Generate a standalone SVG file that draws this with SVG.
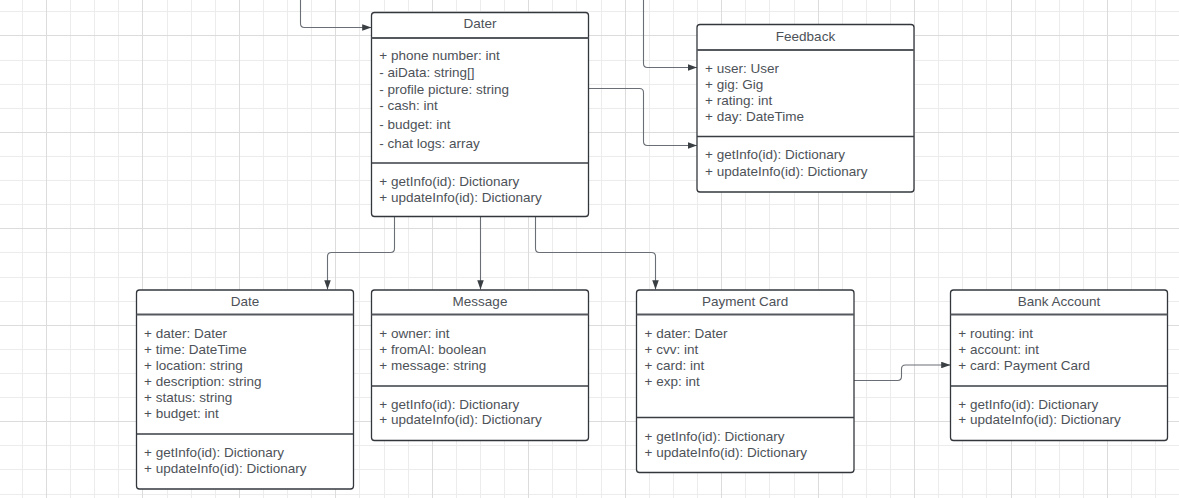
<svg xmlns="http://www.w3.org/2000/svg" width="1179" height="498" viewBox="0 0 1179 498">
<style>
.gmin{stroke:#ececec;stroke-width:1;fill:none}
.gmaj{stroke:#dcdcdc;stroke-width:1;fill:none}
.box{fill:#ffffff;stroke:#33373c;stroke-width:1.3}
.hdr{stroke:#55595e;stroke-width:2;fill:none}
.div{stroke:#3a3e43;stroke-width:1.5;fill:none}
.t{font-family:"Liberation Sans",Arial,sans-serif;font-size:13.5px;fill:#4d5258}
.ttl{font-family:"Liberation Sans",Arial,sans-serif;font-size:13.5px;fill:#4d5258;text-anchor:middle}
.conn{stroke:#6a6f75;stroke-width:1.1;fill:none}
</style>
<defs>
<marker id="arr" viewBox="0 0 10 7" refX="10" refY="3.5" markerWidth="9.5" markerHeight="6.5" markerUnits="userSpaceOnUse" orient="auto">
<path d="M0,0 L10,3.5 L0,7 Z" fill="#3a3f44"/>
</marker>
</defs>
<rect width="1179" height="498" fill="#ffffff"/>
<g id="grid">
<path class="gmin" d="M22.5,0V498M70.5,0V498M94.5,0V498M118.5,0V498M167.5,0V498M191.5,0V498M215.5,0V498M263.5,0V498M287.5,0V498M311.5,0V498M359.5,0V498M384.5,0V498M408.5,0V498M456.5,0V498M480.5,0V498M504.5,0V498M552.5,0V498M576.5,0V498M601.5,0V498M649.5,0V498M673.5,0V498M697.5,0V498M745.5,0V498M769.5,0V498M794.5,0V498M842.5,0V498M866.5,0V498M890.5,0V498M938.5,0V498M962.5,0V498M986.5,0V498M1035.5,0V498M1059.5,0V498M1083.5,0V498M1131.5,0V498M1155.5,0V498M0,11.5H1179M0,60.5H1179M0,84.5H1179M0,108.5H1179M0,156.5H1179M0,180.5H1179M0,204.5H1179M0,252.5H1179M0,277.5H1179M0,301.5H1179M0,349.5H1179M0,373.5H1179M0,397.5H1179M0,445.5H1179M0,469.5H1179M0,494.5H1179"/>
<path class="gmaj" d="M46.5,0V498M142.5,0V498M239.5,0V498M335.5,0V498M432.5,0V498M528.5,0V498M625.5,0V498M721.5,0V498M818.5,0V498M914.5,0V498M1011.5,0V498M1107.5,0V498M0,35.5H1179M0,132.5H1179M0,228.5H1179M0,325.5H1179M0,421.5H1179"/>
</g>
<g id="connectors">
<path class="conn" marker-end="url(#arr)" d="M300.5,0 V23.5 Q300.5,27.5 304.5,27.5 H371.5"/>
<path class="conn" marker-end="url(#arr)" d="M643.5,0 V63.5 Q643.5,67.5 647.5,67.5 H697"/>
<path class="conn" marker-end="url(#arr)" d="M588.5,88.5 H639.5 Q643.5,88.5 643.5,92.5 V141.5 Q643.5,145.5 647.5,145.5 H697"/>
<path class="conn" marker-end="url(#arr)" d="M394.5,216.5 V248.5 Q394.5,252.5 390.5,252.5 H331.5 Q327.5,252.5 327.5,256.5 V289.5"/>
<path class="conn" marker-end="url(#arr)" d="M480.5,216.5 V289.5"/>
<path class="conn" marker-end="url(#arr)" d="M535.5,216.5 V248.5 Q535.5,252.5 539.5,252.5 H651.5 Q655.5,252.5 655.5,256.5 V289.5"/>
<path class="conn" marker-end="url(#arr)" d="M854,380.5 H897.5 Q901.5,380.5 901.5,376.5 V369 Q901.5,365 905.5,365 H950.5"/>
</g>
<g id="dater">
<rect class="box" x="371.5" y="12.5" width="217" height="204" rx="3"/>
<path class="hdr" d="M371.5,38H588.5"/>
<path class="div" d="M371.5,163H588.5"/>
<text class="ttl" x="480" y="28.3">Dater</text>
<text class="t" x="379.3" y="60.3">+ phone number: int</text>
<text class="t" x="379.3" y="77">- aiData: string[]</text>
<text class="t" x="379.3" y="93.5">- profile picture: string</text>
<text class="t" x="379.3" y="110">- cash: int</text>
<text class="t" x="379.3" y="129">- budget: int</text>
<text class="t" x="379.3" y="147.7">- chat logs: array</text>
<text class="t" x="379.3" y="185.5">+ getInfo(id): Dictionary</text>
<text class="t" x="379.3" y="201.5">+ updateInfo(id): Dictionary</text>
</g>
<g id="feedback">
<rect class="box" x="697" y="24.5" width="217" height="167.5" rx="3"/>
<path class="hdr" d="M697,50H914"/>
<path class="div" d="M697,136.5H914"/>
<text class="ttl" x="805.5" y="40.5">Feedback</text>
<text class="t" x="705" y="72.7">+ user: User</text>
<text class="t" x="705" y="88.7">+ gig: Gig</text>
<text class="t" x="705" y="104.7">+ rating: int</text>
<text class="t" x="705" y="120.9">+ day: DateTime</text>
<text class="t" x="705" y="159.2">+ getInfo(id): Dictionary</text>
<text class="t" x="705" y="175.9">+ updateInfo(id): Dictionary</text>
</g>
<g id="date">
<rect class="box" x="136.5" y="290" width="217" height="199" rx="3"/>
<path class="hdr" d="M136.5,314.5H353.5"/>
<path class="div" d="M136.5,434H353.5"/>
<text class="ttl" x="245" y="306">Date</text>
<text class="t" x="144" y="337.5">+ dater: Dater</text>
<text class="t" x="144" y="353.8">+ time: DateTime</text>
<text class="t" x="144" y="369.8">+ location: string</text>
<text class="t" x="144" y="385.8">+ description: string</text>
<text class="t" x="144" y="402">+ status: string</text>
<text class="t" x="144" y="418">+ budget: int</text>
<text class="t" x="144" y="457">+ getInfo(id): Dictionary</text>
<text class="t" x="144" y="473">+ updateInfo(id): Dictionary</text>
</g>
<g id="message">
<rect class="box" x="371.5" y="290" width="217" height="150.5" rx="3"/>
<path class="hdr" d="M371.5,314.5H588.5"/>
<path class="div" d="M371.5,386H588.5"/>
<text class="ttl" x="480" y="305.7">Message</text>
<text class="t" x="379.3" y="337.5">+ owner: int</text>
<text class="t" x="379.3" y="353.8">+ fromAI: boolean</text>
<text class="t" x="379.3" y="369.8">+ message: string</text>
<text class="t" x="379.3" y="408.8">+ getInfo(id): Dictionary</text>
<text class="t" x="379.3" y="424.1">+ updateInfo(id): Dictionary</text>
</g>
<g id="payment-card">
<rect class="box" x="636.5" y="290" width="217.5" height="182.5" rx="3"/>
<path class="hdr" d="M636.5,314.5H854"/>
<path class="div" d="M636.5,417.5H854"/>
<text class="ttl" x="745.2" y="305.7">Payment Card</text>
<text class="t" x="644.5" y="337.5">+ dater: Dater</text>
<text class="t" x="644.5" y="353.8">+ cvv: int</text>
<text class="t" x="644.5" y="369.8">+ card: int</text>
<text class="t" x="644.5" y="385.8">+ exp: int</text>
<text class="t" x="644.5" y="440.5">+ getInfo(id): Dictionary</text>
<text class="t" x="644.5" y="456.8">+ updateInfo(id): Dictionary</text>
</g>
<g id="bank-account">
<rect class="box" x="950.5" y="290" width="217" height="150.5" rx="3"/>
<path class="hdr" d="M950.5,314.5H1167.5"/>
<path class="div" d="M950.5,386H1167.5"/>
<text class="ttl" x="1059" y="305.7">Bank Account</text>
<text class="t" x="958.3" y="337.5">+ routing: int</text>
<text class="t" x="958.3" y="353.8">+ account: int</text>
<text class="t" x="958.3" y="369.8">+ card: Payment Card</text>
<text class="t" x="958.3" y="408.8">+ getInfo(id): Dictionary</text>
<text class="t" x="958.3" y="424.1">+ updateInfo(id): Dictionary</text>
</g>
</svg>
